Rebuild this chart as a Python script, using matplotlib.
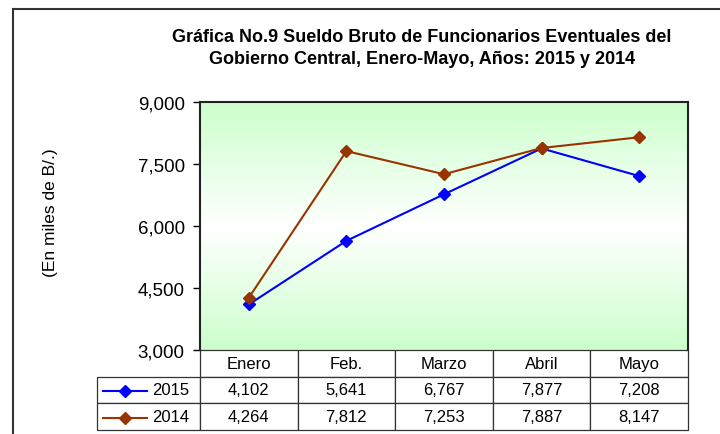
import numpy as np
import matplotlib
matplotlib.use("Agg")
import matplotlib.pyplot as plt
from matplotlib.colors import LinearSegmentedColormap
from matplotlib.lines import Line2D

months = ["Enero", "Feb.", "Marzo", "Abril", "Mayo"]
years = ["2015", "2014"]
v2015 = [4102, 5641, 6767, 7877, 7208]
v2014 = [4264, 7812, 7253, 7887, 8147]
yticks = [3000, 4500, 6000, 7500, 9000]

c2015 = "#0000FF"
c2014 = "#993300"

plt.rcParams["font.family"] = ["Liberation Sans", "DejaVu Sans"]

W, H = 720, 435
fig = plt.figure(figsize=(7.2, 4.35), dpi=100)

# figure frame (only top and left edges visible)
fig.add_artist(Line2D([13 / W, 13 / W], [0, 1 - 10 / H], color="#333333", lw=1.5))
fig.add_artist(Line2D([13 / W, 1], [1 - 10 / H, 1 - 10 / H], color="#333333", lw=1.5))

ax = fig.add_axes([200 / W, 1 - 351 / H, 488 / W, 248 / H])

# green-white-green background
cmap = LinearSegmentedColormap.from_list("bg", ["#CCFFCC", "#FFFFFF", "#CCFFCC"])
grad = np.linspace(0, 1, 256).reshape(-1, 1)
ax.imshow(grad, cmap=cmap, aspect="auto", extent=[0, 1, 0, 1],
          transform=ax.transAxes, zorder=0)

x = np.arange(len(months)) + 0.5
ax.plot(x, v2015, color=c2015, lw=1.5, marker="D", ms=6.5, zorder=3)
ax.plot(x, v2014, color=c2014, lw=1.5, marker="D", ms=6.5, zorder=3)

ax.set_xlim(0, len(months))
ax.set_ylim(3000, 9000)
ax.set_yticks(yticks)
ax.set_yticklabels([f"{v:,}" for v in yticks], fontsize=13.5)
ax.set_xticks([])
ax.tick_params(axis="y", length=5, width=1, pad=6, direction="out")
for side in ["left", "top", "right"]:
    ax.spines[side].set_linewidth(1.5)
    ax.spines[side].set_color("#222222")
ax.spines["bottom"].set_visible(False)

# data table under the plot
cell_text = [[y] + [f"{v:,}" for v in vals] for y, vals in zip(years, [v2015, v2014])]
col_labels = [""] + months
widths = [103] + [97.6] * 5
tw = sum(widths)
tbl = ax.table(cellText=cell_text, colLabels=col_labels,
               colWidths=[w / tw for w in widths], cellLoc="center",
               bbox=[-103 / 488, -80 / 248, tw / 488, 80 / 248])
tbl.auto_set_font_size(False)
tbl.set_fontsize(12)
for (r, c), cell in tbl.get_celld().items():
    cell.set_edgecolor("#333333")
    cell.set_linewidth(0.9)
    cell.set_facecolor("white")
    if r == 0 and c == 0:
        cell.visible_edges = ""
    if c == 0 and r > 0:
        cell._loc = "right"
        cell.PAD = 0.1
        cell.get_text().set_horizontalalignment("right")

# legend keys in the row label cells
for i, col in enumerate([c2015, c2014]):
    yk = (-27 - 13.5 - 27 * i) / 248
    ax.plot([-97 / 488, -53 / 488], [yk, yk], color=col, lw=1.5,
            transform=ax.transAxes, clip_on=False)
    ax.plot([-75 / 488], [yk], color=col, marker="D", ms=6.5,
            transform=ax.transAxes, clip_on=False)

fig.text(50 / W, 1 - 213 / H, "(En miles de B/.)", rotation=90,
         ha="center", va="center", fontsize=12.5)

fig.text(422 / W, 1 - 37 / H,
         "Gráfica No.9 Sueldo Bruto de Funcionarios Eventuales del",
         ha="center", va="center", fontsize=13, fontweight="bold")
fig.text(422 / W, 1 - 60 / H,
         "Gobierno Central, Enero-Mayo, Años: 2015 y 2014",
         ha="center", va="center", fontsize=13, fontweight="bold")

fig.savefig("out.png", dpi=100)
